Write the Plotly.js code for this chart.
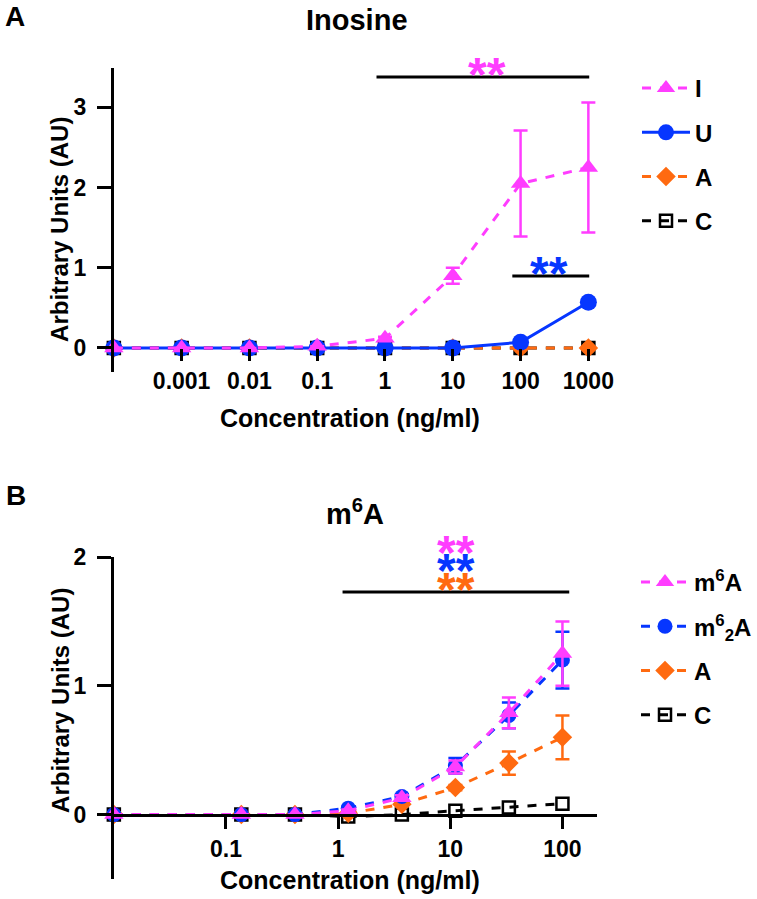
<!DOCTYPE html>
<html>
<head>
<meta charset="utf-8">
<script src="https://cdn.plot.ly/plotly-3.0.1.min.js"></script>
<style>html,body{margin:0;padding:0;background:#fff;}</style>
</head>
<body>
<div id="chart" style="width:757px;height:899px;"></div>
<script>
// ---------- Panel A: Inosine ----------
const concA = [0.0001, 0.001, 0.01, 0.1, 1, 10, 100, 1000]; // first = control (0 ng/ml)
const tickValsA = [0.001, 0.01, 0.1, 1, 10, 100, 1000];
const tickTextA = ['0.001', '0.01', '0.1', '1', '10', '100', '1000'];
const inosineI = [0, 0, 0, 0.02, 0.12, 0.9, 2.05, 2.25];
const inosineIErr = [0, 0, 0, 0, 0.02, 0.1, 0.66, 0.81];
const inosineU = [0, 0, 0, 0, 0, 0, 0.07, 0.57];
const inosineUErr = [0, 0, 0, 0, 0, 0, 0.01, 0.03];
const inosineA = [0, 0, 0, 0, 0, 0, 0, 0];
const inosineC = [0, 0, 0, 0, 0, 0, 0, 0];

// ---------- Panel B: m6A ----------
const concB = [0.01, 0.137, 0.412, 1.23, 3.7, 11.1, 33.3, 100]; // first = control
const tickValsB = [0.1, 1, 10, 100];
const tickTextB = ['0.1', '1', '10', '100'];
const m6aM6A = [0, 0, 0, 0.03, 0.13, 0.37, 0.79, 1.25];
const m6aM6AErr = [0, 0, 0, 0.01, 0.02, 0.05, 0.12, 0.25];
const m6aM62A = [0, 0, 0, 0.05, 0.14, 0.38, 0.77, 1.2];
const m6aM62AErr = [0, 0, 0, 0.01, 0.02, 0.06, 0.1, 0.22];
const m6aA = [0, 0, 0, 0.01, 0.08, 0.21, 0.4, 0.6];
const m6aAErr = [0, 0, 0, 0, 0.01, 0.02, 0.09, 0.17];
const m6aC = [0, 0, 0, -0.015, 0, 0.03, 0.055, 0.085];

const MAG = '#ff3dff', BLU = '#0636ff', ORG = '#ff6a10', BLK = '#000000';
const FONT = 'Liberation Sans, Arial, Helvetica, sans-serif';

function tr(x, y, err, name, color, symbol, dash, xa, ya, leg, size, rank) {
  const open = symbol.indexOf('open') >= 0;
  const t = {
    x: x, y: y, name: name, type: 'scatter', mode: 'lines+markers',
    xaxis: xa, yaxis: ya, legend: leg, legendgroup: leg + name, legendrank: rank,
    line: {color: color, width: 3, dash: dash},
    marker: {symbol: symbol, size: size, color: open ? BLK : color,
             line: {width: open ? 2.5 : 0, color: color}},
    cliponaxis: false
  };
  if (err) t.error_y = {type: 'data', array: err, visible: true, color: color, thickness: 2.5, width: 7};
  return t;
}

const traces = [
  tr(concA, inosineC, null, 'C', BLK, 'square-open', 'dash', 'x', 'y', 'legend', 12, 4),
  tr(concA, inosineA, null, 'A', ORG, 'diamond', 'dash', 'x', 'y', 'legend', 15, 3),
  tr(concA, inosineU, inosineUErr, 'U', BLU, 'circle', 'solid', 'x', 'y', 'legend', 17, 2),
  tr(concA, inosineI, inosineIErr, 'I', MAG, 'triangle-up', 'dash', 'x', 'y', 'legend', 17, 1),
  tr(concB, m6aC, null, 'C', BLK, 'square-open', 'dash', 'x2', 'y2', 'legend2', 12, 4),
  tr(concB, m6aA, m6aAErr, 'A', ORG, 'diamond', 'dash', 'x2', 'y2', 'legend2', 15, 3),
  tr(concB, m6aM62A, m6aM62AErr, 'm<sup>6</sup><sub>2</sub>A', BLU, 'circle', 'dash', 'x2', 'y2', 'legend2', 15, 2),
  tr(concB, m6aM6A, m6aM6AErr, 'm<sup>6</sup>A', MAG, 'triangle-up', 'dash', 'x2', 'y2', 'legend2', 17, 1)
];

const W = 757, H = 899;
const px = v => v / W, py = v => 1 - v / H;

const tickFont = {family: FONT, size: 23, color: '#000', weight: 'bold'};
function xax(domain, range, pos, tv, tt, line) {
  return {type: 'log', domain: domain, range: range, anchor: 'free', position: pos,
    showline: line, linecolor: '#000', linewidth: 3, ticks: 'outside', ticklen: 12, tickwidth: 3,
    tickcolor: '#000', tickvals: tv, ticktext: tt, tickfont: tickFont, showgrid: false, zeroline: false,
    fixedrange: true};
}
function yax(domain, range, anchor, tv) {
  return {domain: domain, range: range, anchor: anchor, showline: true, linecolor: '#000', linewidth: 3,
    ticks: 'outside', ticklen: 14, tickwidth: 3, tickcolor: '#000', tickvals: tv, ticklabelstandoff: 6,
    tickfont: tickFont, showgrid: false, zeroline: false, fixedrange: true};
}

function txt(text, x, y, size, color, extra) {
  return Object.assign({text: text, x: px(x), y: py(y), xref: 'paper', yref: 'paper', showarrow: false,
    xanchor: 'center', yanchor: 'middle', font: {family: FONT, size: size, color: color || '#000', weight: 'bold'}}, extra || {});
}

const legFont = {family: FONT, size: 24, color: '#000', weight: 'bold'};
const layout = {
  width: W, height: H, margin: {l: 0, r: 0, t: 0, b: 0},
  paper_bgcolor: '#fff', plot_bgcolor: 'rgba(0,0,0,0)', showlegend: true,
  xaxis: xax([px(114), px(600)], [-4, 3.16], py(348), tickValsA, tickTextA, false),
  yaxis: yax([py(372), py(68)], [-0.3, 3.49], 'x', [0, 1, 2, 3]),
  xaxis2: xax([px(114), px(598)], [-2, 2.31], py(815), tickValsB, tickTextB, true),
  yaxis2: yax([py(879), py(557)], [-0.5, 2], 'x2', [0, 1, 2]),
  legend: {x: px(637), y: py(66), xanchor: 'left', yanchor: 'top', traceorder: 'grouped', itemwidth: 48,
    tracegroupgap: 10, font: legFont, bgcolor: 'rgba(0,0,0,0)'},
  legend2: {x: px(637), y: py(560), xanchor: 'left', yanchor: 'top', traceorder: 'grouped', itemwidth: 48,
    tracegroupgap: 10, font: legFont, bgcolor: 'rgba(0,0,0,0)'},
  shapes: [
    {type: 'line', xref: 'paper', yref: 'paper', x0: px(377), x1: px(590), y0: py(77), y1: py(77), line: {color: '#000', width: 3}},
    {type: 'line', xref: 'paper', yref: 'paper', x0: px(513), x1: px(590), y0: py(276), y1: py(276), line: {color: '#000', width: 3}},
    {type: 'line', xref: 'paper', yref: 'paper', x0: px(343), x1: px(570), y0: py(592), y1: py(592), line: {color: '#000', width: 3}}
  ],
  annotations: [
    txt('A', 15, 16, 28),
    txt('Inosine', 357, 20, 29),
    txt('B', 16, 495, 28),
    txt('m<sup>6</sup>A', 355, 512, 29),
    txt('Arbitrary Units (AU)', 60, 229, 24, '#000', {textangle: -90}),
    txt('Arbitrary Units (AU)', 60, 700, 24, '#000', {textangle: -90}),
    txt('Concentration (ng/ml)', 350, 418, 25),
    txt('Concentration (ng/ml)', 350, 880, 25),
    txt('**', 488, 74.5, 48, MAG),
    txt('**', 550, 273.5, 48, BLU),
    txt('**', 457, 552, 48, MAG),
    txt('**', 457, 570, 48, BLU),
    txt('**', 457, 589, 48, ORG)
  ]
};

Plotly.newPlot('chart', traces, layout, {staticPlot: true, displayModeBar: false});
</script>
</body>
</html>
